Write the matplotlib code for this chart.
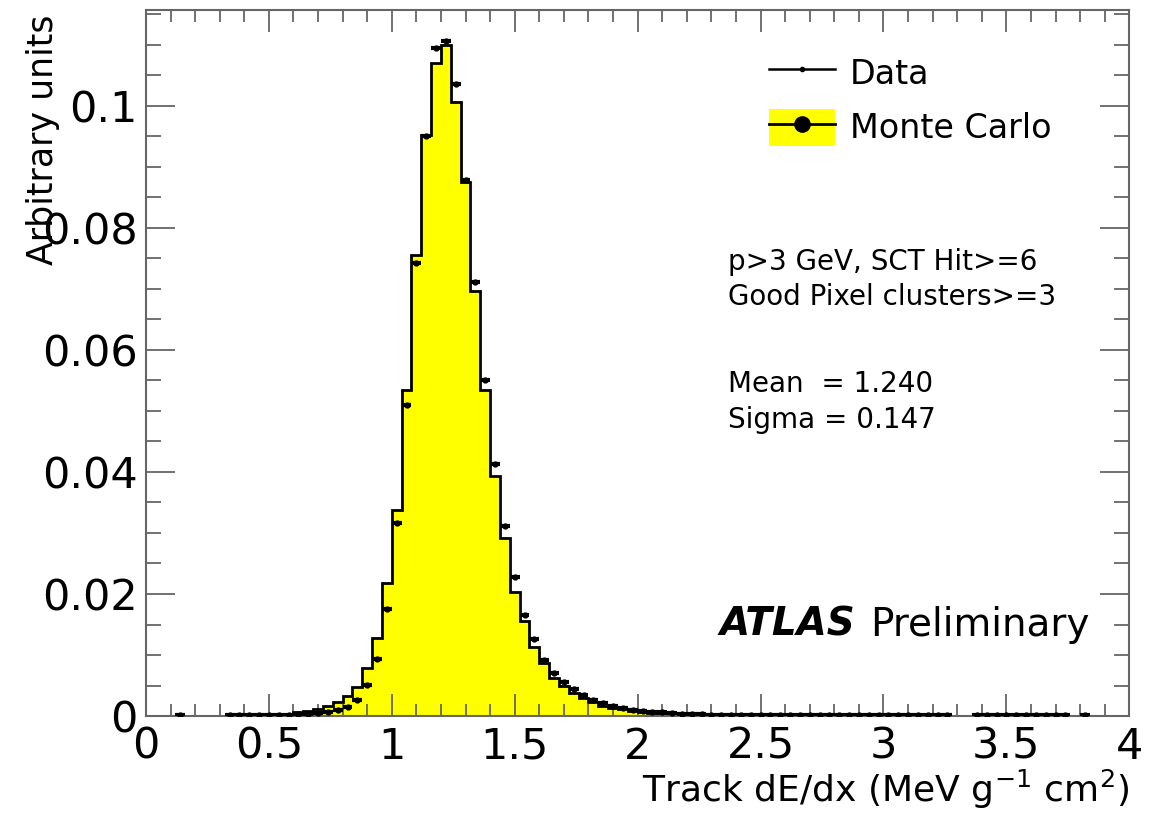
import numpy as np
import matplotlib
matplotlib.use('Agg')
import matplotlib.pyplot as plt
from matplotlib.lines import Line2D
from matplotlib.patches import Patch
from matplotlib.legend_handler import HandlerTuple
from matplotlib.ticker import MultipleLocator, FuncFormatter

# dE/dx histogram, 100 bins of 0.04 between 0 and 4
bin_lo = 0.0
bin_hi = 4.0
n_bins = 100

mc_vals = [
    0, 0, 0, 0, 0, 0.00002, 0.00003, 0.00004, 0.00005, 0.00007,
    0.0001, 0.00013, 0.00018, 0.00025, 0.0004, 0.0006, 0.0009, 0.0012, 0.0016, 0.0023,
    0.0033, 0.0048, 0.0079, 0.0128, 0.0218, 0.0338, 0.0534, 0.0756, 0.0952, 0.1070,
    0.1100, 0.1007, 0.0876, 0.0696, 0.0534, 0.0393, 0.0292, 0.0203, 0.0156, 0.0113,
    0.0087, 0.0063, 0.0049, 0.0038, 0.0030, 0.0023, 0.0017, 0.0013, 0.0011, 0.0008,
    0.0006, 0.0005, 0.0004, 0.0003, 0.00025, 0.0002, 0.00016, 0.00013, 0.0001, 0.00008,
    0.00006, 0.00005, 0.00004, 0.00003, 0.00003, 0.00002, 0.00002, 0.00002, 0.00001, 0.00001,
    0.00001, 0.00001, 0.00001, 0.00001, 0.00001, 0.00001, 0.00001, 0.00001, 0.00001, 0.00001,
    0, 0, 0, 0, 0, 0, 0, 0, 0, 0,
    0, 0, 0, 0, 0, 0, 0, 0, 0, 0,
]

data_vals = [
    0, 0, 0, 0.0001, 0, 0, 0, 0, 0.0001, 0.0001,
    0.0001, 0.0001, 0.0001, 0.00015, 0.0002, 0.0003, 0.0004, 0.0005, 0.0007, 0.0010,
    0.0015, 0.0027, 0.0051, 0.0094, 0.0176, 0.0316, 0.0510, 0.0743, 0.0950, 0.1095,
    0.1107, 0.1036, 0.0878, 0.0712, 0.0551, 0.0413, 0.0311, 0.0228, 0.0166, 0.0127,
    0.0092, 0.0071, 0.0056, 0.0044, 0.0035, 0.0027, 0.0021, 0.0016, 0.0013, 0.0010,
    0.0008, 0.0007, 0.0006, 0.0005, 0.0004, 0.0003, 0.0003, 0.0002, 0.0002, 0.0002,
    0.00015, 0.00015, 0.00012, 0.00012, 0.0001, 0.0001, 0.0001, 0.0001, 0.0001, 0.0001,
    0.0001, 0.0001, 0.0001, 0.0001, 0.0001, 0.0001, 0.0001, 0.0001, 0.0001, 0.0001,
    0.0001, 0.0001, 0, 0, 0.0001, 0.0001, 0.0001, 0.0001, 0.0001, 0.0001,
    0.0001, 0.0001, 0.0001, 0.0001, 0, 0.0001, 0, 0, 0, 0,
]

edges = np.linspace(bin_lo, bin_hi, n_bins + 1)
centers = 0.5 * (edges[:-1] + edges[1:])
half_w = 0.5 * (edges[1] - edges[0])
mc = np.array(mc_vals)
data = np.array(data_vals)
has_data = data > 0

fig = plt.figure(figsize=(11.63, 8.16), dpi=100)
fig.patch.set_facecolor('white')
ax = fig.add_axes([0.1255, 0.1225, 0.8455, 0.8652])

# Monte Carlo: yellow filled step histogram with black outline
ax.stairs(mc, edges, fill=True, color='#FFFF00', zorder=1)
ax.stairs(mc, edges, color='black', lw=2.0, zorder=2)

# Data points with bin-width horizontal bars
ax.errorbar(centers[has_data], data[has_data], xerr=half_w, fmt='o', ms=3.5,
            color='black', elinewidth=3.0, capsize=0, zorder=3)

ax.set_xlim(0, 4)
ax.set_ylim(0, 0.1157)

frame_col = '#666666'
for sp in ax.spines.values():
    sp.set_color(frame_col)
    sp.set_linewidth(1.5)

ax.xaxis.set_major_locator(MultipleLocator(0.5))
ax.xaxis.set_minor_locator(MultipleLocator(0.1))
ax.yaxis.set_major_locator(MultipleLocator(0.02))
ax.yaxis.set_minor_locator(MultipleLocator(0.005))
fmt = FuncFormatter(lambda v, p: '%g' % round(v, 4))
ax.xaxis.set_major_formatter(fmt)
ax.yaxis.set_major_formatter(fmt)

ax.tick_params(which='both', direction='in', top=True, right=True,
               color=frame_col, width=1.3, labelsize=31)
ax.tick_params(axis='x', which='major', length=16, pad=7)
ax.tick_params(axis='x', which='minor', length=8.5)
ax.tick_params(axis='y', which='major', length=21, pad=6)
ax.tick_params(axis='y', which='minor', length=11)

ax.set_xlabel('Track dE/dx (MeV g$^{-1}$ cm$^{2}$)', fontsize=26, loc='right')
ax.xaxis.set_label_coords(1.0, -0.074)
ax.set_ylabel('Arbitrary units', fontsize=25, loc='top')
ax.yaxis.set_label_coords(-0.087, 0.993)

# Legend
h_data = Line2D([], [], color='black', lw=1.8, marker='o', ms=3)
h_mc = (Patch(facecolor='#FFFF00', edgecolor='none'),
        Line2D([], [], color='black', lw=2.0, marker='o', ms=11))
ax.legend([h_data, h_mc], ['Data', 'Monte Carlo'], loc='upper left',
          bbox_to_anchor=(0.634, 0.937), frameon=False, fontsize=24,
          handlelength=1.97, handleheight=1.35, handletextpad=0.45,
          labelspacing=0.5, borderpad=0, borderaxespad=0,
          handler_map={tuple: HandlerTuple(ndivide=1)})

# Selection and fit info
ax.text(0.5915, 0.643, 'p>3 GeV, SCT Hit>=6', transform=ax.transAxes,
        fontsize=20, va='center', ha='left')
ax.text(0.5915, 0.5935, 'Good Pixel clusters>=3', transform=ax.transAxes,
        fontsize=20, va='center', ha='left')
ax.text(0.5915, 0.470, 'Mean  = 1.240', transform=ax.transAxes,
        fontsize=20, va='center', ha='left')
ax.text(0.5915, 0.419, 'Sigma = 0.147', transform=ax.transAxes,
        fontsize=20, va='center', ha='left')

ax.text(0.583, 0.129, 'ATLAS', transform=ax.transAxes, fontsize=28,
        fontweight='bold', style='italic', va='center', ha='left')
ax.text(0.736, 0.129, 'Preliminary', transform=ax.transAxes, fontsize=28,
        va='center', ha='left')

fig.savefig('out.png', dpi=100, facecolor='white')
